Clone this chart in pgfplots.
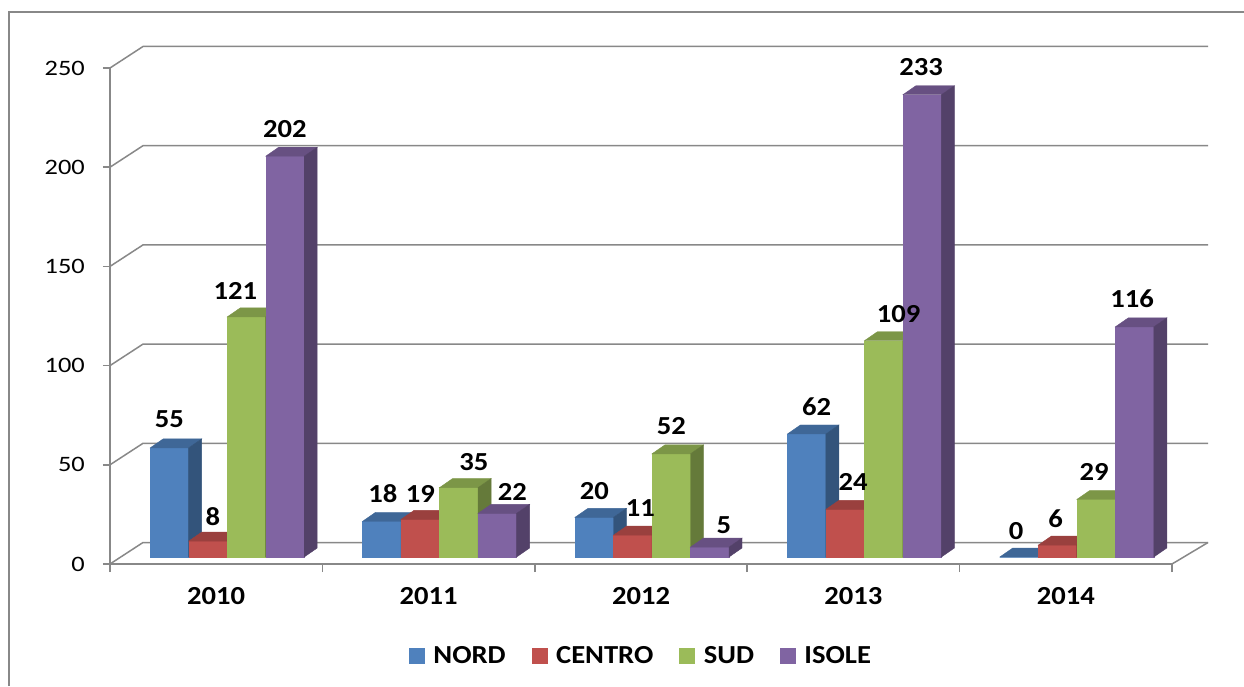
\documentclass[border=0pt]{standalone}
\usepackage{fontspec}
\setmainfont{Carlito}[FakeStretch=1.2, BoldFeatures={FakeStretch=1.1}]
\usepackage{pgfplots}
\usepackage{pgfplotstable}
\pgfplotsset{compat=1.18}

\definecolor{nordc}{HTML}{4F81BD}
\definecolor{centroc}{HTML}{C0504D}
\definecolor{sudc}{HTML}{9BBB59}
\definecolor{isolec}{HTML}{8064A2}
\definecolor{gridc}{HTML}{888888}

\newcommand\tickfont{\fontsize{22}{22}\selectfont}
\newcommand\lblfont{\fontsize{26}{26}\selectfont\bfseries}

% values, then label offsets (dx, baseline height above bar top) in px
\pgfplotstableread{
x nord centro sud isole norddx centrodx suddx isoledx norddy centrody suddy isoledy
0 55 8 121 202    0   5  -11   0    20 16 17 19
1 18 19 35 22     1   0   15  15    19 17 17 13
2 20 11 52 5      0 7.5    0  14    18 19 19 14
3 62 24 109 233  10   8   15  -1    18 19 18 19
4 0 6 29 116     -3  -2   -2 -2.5   18 18 19 19
}\datatable

\pgfdeclareplotmark{nothing}{}

% draws one prism; the data point is the bar top in the front plane
\newcommand\prismdraw[1]{%
  \pgfmathsetmacro\h{\val*1.984}%
  \fill[#1] (-8.25pt,{7pt-\h pt}) rectangle (30.25pt,7pt);
  \fill[#1!80!black] (-8.25pt,7pt) -- (30.25pt,7pt) -- (43.25pt,16pt) -- (4.75pt,16pt) -- cycle;
  \fill[#1!65!black] (30.25pt,{7pt-\h pt}) -- (43.25pt,{16pt-\h pt}) -- (43.25pt,16pt) -- (30.25pt,7pt) -- cycle;
}
\newcommand\labeldraw{%
  \node[font=\lblfont, inner sep=0pt, anchor=base] at ({11pt+\ldx pt},{7pt+\ldy pt}) {\pgfmathprintnumber[fixed,precision=0]{\val}};
}

\pgfplotsset{
  prism/.style 2 args={
    scatter, only marks, mark=nothing, forget plot,
    visualization depends on={\thisrow{#2} \as \val},
    scatter/@pre marker code/.code={\prismdraw{#1}},
    scatter/@post marker code/.code={},
  },
  barlabel/.style={
    scatter, only marks, mark=nothing, forget plot,
    visualization depends on={\thisrow{#1} \as \val},
    visualization depends on={\thisrow{#1dx} \as \ldx},
    visualization depends on={\thisrow{#1dy} \as \ldy},
    scatter/@pre marker code/.code={\labeldraw},
    scatter/@post marker code/.code={},
  },
}

\begin{document}
\begin{tikzpicture}
\path[use as bounding box] (-110pt,-122pt) rectangle (1134pt,564pt);
\draw[gridc, line width=1.5pt] (-101pt,-122pt) -- (-101pt,552pt) -- (1134pt,552pt);
\begin{axis}[
  at={(0pt,0pt)}, anchor=south west,
  x=212.4pt, y=1.984pt,
  xmin=-0.5, xmax=4.5, ymin=0, ymax=250,
  clip=false,
  axis x line*=bottom, axis y line*=left,
  axis line style={gridc, line width=1.5pt},
  tick align=outside,
  major tick length=7pt, minor tick length=8pt,
  ytick={0,50,...,250},
  ytick style={gridc, line width=1.5pt},
  xtick={0,...,4},
  xticklabels={2010,2011,2012,2013,2014},
  major x tick style={draw=none},
  minor xtick={-0.5,0.5,...,4.5},
  minor x tick style={gridc, line width=1.5pt},
  /pgf/number format/assume math mode=true,
  yticklabel style={font=\tickfont, inner sep=0pt, anchor=east, xshift=-18pt},
  xticklabel style={font=\lblfont, inner sep=0pt, anchor=center, yshift=-25pt},
  legend style={at={(axis description cs:0.5,-0.1845)}, anchor=center, draw=none,
    fill=none, legend columns=4, font=\lblfont,
    /tikz/every odd column/.append style={column sep=7pt},
    /tikz/every even column/.append style={column sep=24pt}},
  legend image code/.code={\fill[#1] (0pt,-7.5pt) rectangle (15pt,7.5pt);},
]
\pgfplotsinvokeforeach{0,50,...,250}{
  \draw[gridc, line width=1.5pt] (axis cs:-0.5,#1) -- ([shift={(33pt,21.5pt)}]axis cs:-0.5,#1) -- ([shift={(36pt,21.5pt)}]axis cs:4.5,#1);
}
\draw[gridc, line width=1.5pt] (axis cs:4.5,0) -- ([shift={(36pt,21.5pt)}]axis cs:4.5,0);

\addplot[prism={nordc}{nord}] table[x expr=\thisrow{x}-0.2719, y=nord] {\datatable};
\addplot[prism={centroc}{centro}] table[x expr=\thisrow{x}-0.0906, y=centro] {\datatable};
\addplot[prism={sudc}{sud}] table[x expr=\thisrow{x}+0.0906, y=sud] {\datatable};
\addplot[prism={isolec}{isole}] table[x expr=\thisrow{x}+0.2719, y=isole] {\datatable};

\addplot[barlabel=nord] table[x expr=\thisrow{x}-0.2719, y=nord] {\datatable};
\addplot[barlabel=centro] table[x expr=\thisrow{x}-0.0906, y=centro] {\datatable};
\addplot[barlabel=sud] table[x expr=\thisrow{x}+0.0906, y=sud] {\datatable};
\addplot[barlabel=isole] table[x expr=\thisrow{x}+0.2719, y=isole] {\datatable};

\addlegendimage{nordc}\addlegendentry{NORD}
\addlegendimage{centroc}\addlegendentry{CENTRO}
\addlegendimage{sudc}\addlegendentry{SUD}
\addlegendimage{isolec}\addlegendentry{ISOLE}
\end{axis}
\end{tikzpicture}
\end{document}
